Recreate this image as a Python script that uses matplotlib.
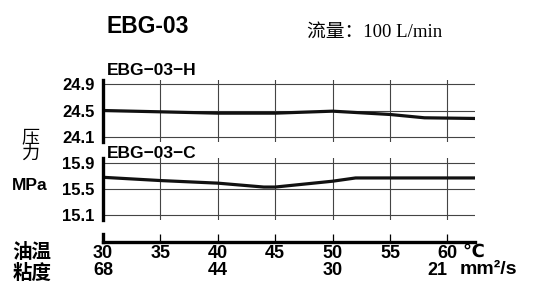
import matplotlib
matplotlib.use("Agg")
import matplotlib.pyplot as plt

# data
temp_ticks   = [30, 35, 40, 45, 50, 55, 60]
visc_temps   = [30, 40, 50, 60]
visc_labels  = ["68", "44", "30", "21"]

h_temp = [30, 35, 40, 45, 50, 55, 58, 62.4]
h_pres = [24.50, 24.48, 24.46, 24.46, 24.49, 24.44, 24.39, 24.38]
h_ticks = [24.1, 24.5, 24.9]

c_temp = [30, 35, 40, 44, 45, 50, 52, 55, 60, 62.4]
c_pres = [15.68, 15.63, 15.59, 15.53, 15.53, 15.62, 15.67, 15.67, 15.67, 15.67]
c_ticks = [15.1, 15.5, 15.9]

W, H = 533, 293
SANS = ["Liberation Sans", "DejaVu Sans"]
CJK = ["Noto Sans CJK SC", "DejaVu Sans"]
SERIF = ["Liberation Serif", "Noto Sans CJK SC"]


def fx(px):
    return px / W


def fy(py):
    return 1 - py / H


fig = plt.figure(figsize=(W / 100, H / 100), dpi=100)
fig.patch.set_facecolor("white")

left, right = 103, 475
width = (right - left) / W


def panel(y_top, y_bot, ylim, ticks, xs, ys):
    ax = fig.add_axes([fx(left), fy(y_bot), width, (y_bot - y_top) / H])
    ax.set_facecolor("none")
    ax.plot(xs, ys, color="#111111", lw=2.3, solid_capstyle="butt")
    ax.set_xlim(30, 62.4)
    ax.set_ylim(*ylim)
    ax.set_xticks(temp_ticks)
    ax.set_yticks(ticks)
    ax.set_yticklabels([f"{t:.1f}" for t in ticks],
                       family=SANS, fontweight="bold", fontsize=12)
    ax.tick_params(axis="x", length=0, labelbottom=False)
    ax.tick_params(axis="y", length=0, pad=6)
    ax.grid(True, color="#444444", lw=0.8)
    for s in ("top", "right", "bottom"):
        ax.spines[s].set_visible(False)
    ax.spines["left"].set_linewidth(2.4)
    return ax


ax_h = panel(80, 142, (24.025, 24.96), h_ticks, h_temp, h_pres)
ax_c = panel(158, 220, (15.023, 15.977), c_ticks, c_temp, c_pres)

# temperature axis strip
ax_x = fig.add_axes([fx(left), fy(242), width, 8 / H])
ax_x.set_facecolor("none")
ax_x.set_xlim(30, 62.4)
ax_x.set_xticks(temp_ticks)
ax_x.set_xticklabels([str(t) for t in temp_ticks],
                     family=SANS, fontweight="bold", fontsize=13)
ax_x.set_yticks([])
ax_x.tick_params(axis="x", direction="in", length=6, width=0.9, pad=2)
for s in ("top", "right"):
    ax_x.spines[s].set_visible(False)
ax_x.spines["bottom"].set_linewidth(2.4)
ax_x.spines["left"].set_linewidth(2.4)

# last viscosity label sits a little left of its tick in the original
visc_dx = [0, 0, 0, -10]
for t, lab, dx in zip(visc_temps, visc_labels, visc_dx):
    ax_x.annotate(lab, xy=(t, 0), xycoords=("data", "axes fraction"),
                  xytext=(dx, -20), textcoords="offset pixels",
                  ha="center", va="top", family=SANS,
                  fontweight="bold", fontsize=13)
ax_x.annotate("℃", xy=(60, 0), xycoords=("data", "axes fraction"),
              xytext=(15, -2), textcoords="offset pixels",
              ha="left", va="top", family=SANS, fontweight="bold", fontsize=13)
ax_x.annotate("mm²/s", xy=(60, 0), xycoords=("data", "axes fraction"),
              xytext=(12, -19), textcoords="offset pixels",
              ha="left", va="top", family=SANS, fontweight="bold", fontsize=14)

# titles and labels
fig.text(fx(107), fy(33), "EBG-03", family=SANS, fontweight="bold",
         fontsize=16.5, va="baseline", ha="left")
fig.text(fx(307), fy(37), "流量：100 L/min", family=SERIF,
         fontsize=13.5, va="baseline", ha="left")
fig.text(fx(107), fy(75), "EBG\u221203\u2212H", family=SANS, fontweight="bold",
         fontsize=12.5, va="baseline", ha="left")
fig.text(fx(107), fy(158), "EBG\u221203\u2212C", family=SANS, fontweight="bold",
         fontsize=12.5, va="baseline", ha="left")

fig.text(fx(30), fy(137), "压", family=CJK, fontsize=13, ha="center", va="center")
fig.text(fx(30), fy(154), "力", family=CJK, fontsize=13, ha="center", va="center")
fig.text(fx(30), fy(186), "MPa", family=SANS, fontweight="bold",
         fontsize=12.5, ha="center", va="center")
fig.text(fx(32), fy(252), "油温", family=CJK, fontweight="bold",
         fontsize=14, ha="center", va="center")
fig.text(fx(32), fy(273), "粘度", family=CJK, fontweight="bold",
         fontsize=14, ha="center", va="center")

fig.savefig("out.png", dpi=100)
